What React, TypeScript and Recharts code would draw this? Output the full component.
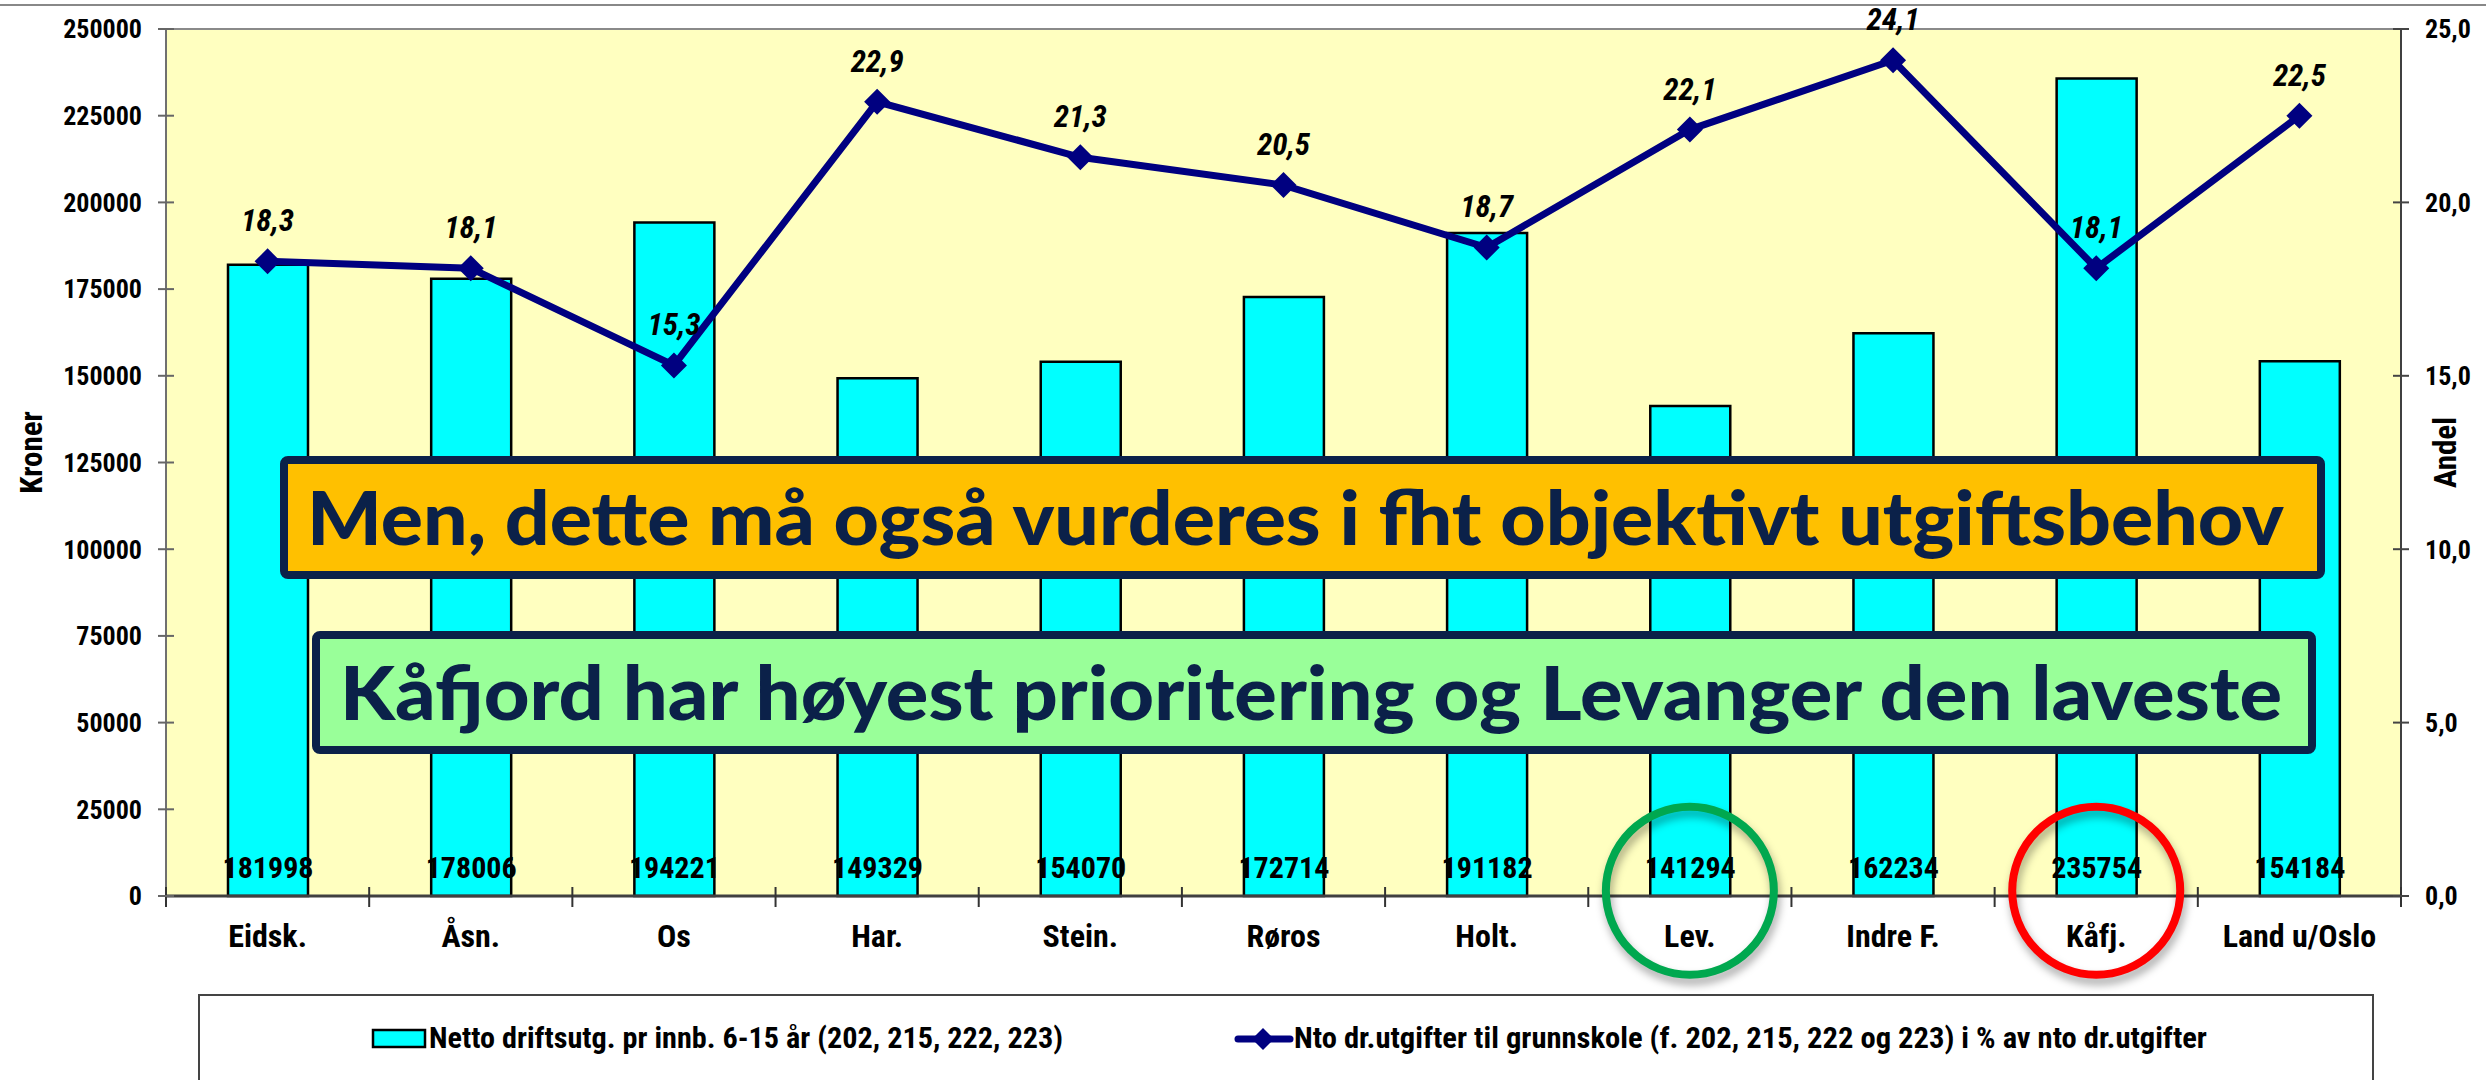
import React from "react";
import {
  ComposedChart,
  Bar,
  Line,
  XAxis,
  YAxis,
  CartesianGrid,
  LabelList,
  ReferenceLine,
  ReferenceDot,
} from "recharts";

// Kommuner (kategorier)
const categories = ["Eidsk.", "Åsn.", "Os", "Har.", "Stein.", "Røros", "Holt.", "Lev.", "Indre F.", "Kåfj.", "Land u/Oslo"];
// Netto driftsutg. pr innb. 6-15 år (kroner)
const nettoValues = [181998, 178006, 194221, 149329, 154070, 172714, 191182, 141294, 162234, 235754, 154184];
// Andel av nto dr.utgifter (%)
const andelValues = [18.3, 18.1, 15.3, 22.9, 21.3, 20.5, 18.7, 22.1, 24.1, 18.1, 22.5];

const leftTicks = [0, 25000, 50000, 75000, 100000, 125000, 150000, 175000, 200000, 225000, 250000];
const rightTicks = [0, 5, 10, 15, 20, 25];

const barLegend = "Netto driftsutg.  pr innb. 6-15 år (202, 215, 222, 223)";
const lineLegend = "Nto dr.utgifter til grunnskole (f. 202, 215, 222 og 223) i % av nto dr.utgifter";
const note1 = "Men, dette må også vurderes i fht objektivt utgiftsbehov";
const note2 = "Kåfjord har høyest prioritering og Levanger den laveste";

const data = categories.map((name, i) => ({ name, netto: nettoValues[i], andel: andelValues[i] }));

const W = 2486;
const H = 1080;
const PLOT_LEFT = 166;
const PLOT_RIGHT = 2401;
const BAND = (PLOT_RIGHT - PLOT_LEFT) / categories.length;
const FONT = '"Liberation Sans Narrow", "Arial Narrow", "Roboto Condensed", sans-serif';
const NAVY = "#000080";
const BOX_TEXT = "#0B2149";

const fmtComma = (v: number) => v.toFixed(1).replace(".", ",");

const LeftTick = (props: any) => {
  const { x, y, payload } = props;
  return (
    <g>
      <line x1={x - 8} x2={x + 8} y1={y} y2={y} stroke="#666" strokeWidth={2} />
      <text x={x - 24} y={y} dy="0.36em" textAnchor="end" fontSize={26} fontWeight="bold" fontFamily={FONT} fill="#000">
        {payload.value}
      </text>
    </g>
  );
};

const RightTick = (props: any) => {
  const { x, y, payload } = props;
  return (
    <g>
      <line x1={x - 8} x2={x + 8} y1={y} y2={y} stroke="#444" strokeWidth={2} />
      <text x={x + 24} y={y} dy="0.36em" textAnchor="start" fontSize={26} fontWeight="bold" fontFamily={FONT} fill="#000">
        {fmtComma(payload.value)}
      </text>
    </g>
  );
};

const CategoryTick = (props: any) => {
  const { x, y, payload, index } = props;
  const half = payload?.offset ? payload.offset : BAND / 2;
  return (
    <g>
      <line x1={x - half} x2={x - half} y1={y - 9} y2={y + 11} stroke="#333" strokeWidth={2} />
      {index === categories.length - 1 && (
        <line x1={x + half} x2={x + half} y1={y - 9} y2={y + 11} stroke="#333" strokeWidth={2} />
      )}
      <text x={x} y={y + 51} textAnchor="middle" fontSize={32} fontWeight="bold" fontFamily={FONT} fill="#000">
        {payload.value}
      </text>
    </g>
  );
};

// aksetitler, rotert
const AxisTitle = (text: string, side: "left" | "right") => (props: any) => {
  const vb = props.viewBox || {};
  const cx = side === "left" ? vb.x - 35 : vb.x + 44;
  const cy = vb.y + vb.height / 2 - 10;
  return (
    <text
      x={cx}
      y={cy}
      transform={`rotate(-90 ${cx} ${cy})`}
      textAnchor="middle"
      dominantBaseline="central"
      fontSize={31}
      fontWeight="bold"
      fontFamily={FONT}
      fill="#000"
    >
      {text}
    </text>
  );
};

const BarValueLabel = (props: any) => {
  const { x, y, width, height, value } = props;
  return (
    <text x={x + width / 2} y={y + height - 18} textAnchor="middle" fontSize={30} fontWeight="bold" fontFamily={FONT} fill="#000">
      {value}
    </text>
  );
};

const LineValueLabel = (props: any) => {
  const { x, y, value } = props;
  return (
    <text x={x} y={y - 30} textAnchor="middle" fontSize={31} fontWeight="bold" fontStyle="italic" fontFamily={FONT} fill="#000">
      {fmtComma(value)}
    </text>
  );
};

const Diamond = (props: any) => {
  const { cx, cy, index } = props;
  const s = 13;
  return <polygon key={`d-${index}`} points={`${cx},${cy - s} ${cx + s},${cy} ${cx},${cy + s} ${cx - s},${cy}`} fill={NAVY} />;
};

const Ring = (color: string) => (props: any) => (
  <circle
    cx={props.cx}
    cy={props.cy}
    r={84}
    fill="none"
    stroke={color}
    strokeWidth={8}
    style={{ filter: "drop-shadow(2px 6px 4px rgba(0,0,0,0.35))" }}
  />
);

export default function App() {
  return (
    <div style={{ position: "absolute", left: 0, top: 0, width: W, height: H, background: "#fff" }}>
      <ComposedChart width={W} height={H} data={data} margin={{ top: 29, right: 5, bottom: 104, left: 66 }}>
        <CartesianGrid fill="#FFFFC0" horizontal={false} vertical={false} />
        <XAxis
          dataKey="name"
          interval={0}
          tickLine={false}
          tickSize={0}
          tickMargin={0}
          height={80}
          axisLine={{ stroke: "#404040", strokeWidth: 3 }}
          tick={<CategoryTick />}
        />
        <YAxis
          yAxisId="left"
          width={100}
          domain={[0, 250000]}
          ticks={leftTicks}
          tickLine={false}
          tickSize={0}
          tickMargin={0}
          axisLine={{ stroke: "#707070", strokeWidth: 2 }}
          tick={<LeftTick />}
          label={{ content: AxisTitle("Kroner", "left") }}
        />
        <YAxis
          yAxisId="right"
          orientation="right"
          width={80}
          domain={[0, 25]}
          ticks={rightTicks}
          tickLine={false}
          tickSize={0}
          tickMargin={0}
          axisLine={{ stroke: "#404040", strokeWidth: 2 }}
          tick={<RightTick />}
          label={{ content: AxisTitle("Andel", "right") }}
        />
        <ReferenceLine yAxisId="left" y={250000} stroke="#8a8a8a" strokeWidth={2} />
        <Bar yAxisId="left" dataKey="netto" fill="#00FFFF" stroke="#000" strokeWidth={2.5} barSize={80} isAnimationActive={false}>
          <LabelList dataKey="netto" content={<BarValueLabel />} />
        </Bar>
        <Line
          yAxisId="right"
          type="linear"
          dataKey="andel"
          stroke={NAVY}
          strokeWidth={7}
          dot={(p: any) => <Diamond key={`dot-${p.index}`} {...p} />}
          activeDot={false}
          isAnimationActive={false}
        >
          <LabelList dataKey="andel" content={<LineValueLabel />} />
        </Line>
        <ReferenceDot yAxisId="left" x="Lev." y={1500} r={84} ifOverflow="visible" shape={Ring("#00A84F")} />
        <ReferenceDot yAxisId="left" x="Kåfj." y={1500} r={84} ifOverflow="visible" shape={Ring("#FF0000")} />
      </ComposedChart>

      {/* tekstbokser, legende og ramme */}
      <svg width={W} height={H} style={{ position: "absolute", left: 0, top: 0, pointerEvents: "none" }}>
        <line x1={0} x2={W} y1={5} y2={5} stroke="#888" strokeWidth={2} />

        <rect x={284} y={460} width={2037} height={115} rx={4} fill="#FFC000" stroke={BOX_TEXT} strokeWidth={8} />
        <text x={307} y={545} fontSize={75} fontWeight={900} fontFamily="Lato, 'Noto Sans', sans-serif" fill={BOX_TEXT} textLength={1977} lengthAdjust="spacingAndGlyphs">
          {note1}
        </text>

        <rect x={316} y={635} width={1996} height={115} rx={4} fill="#99FF99" stroke={BOX_TEXT} strokeWidth={8} />
        <text x={340} y={720} fontSize={75} fontWeight={900} fontFamily="Lato, 'Noto Sans', sans-serif" fill={BOX_TEXT} textLength={1942} lengthAdjust="spacingAndGlyphs">
          {note2}
        </text>

        <rect x={199} y={995} width={2174} height={120} fill="none" stroke="#444" strokeWidth={2} />
        <rect x={373} y={1030} width={52} height={17} fill="#00FFFF" stroke="#000" strokeWidth={2.5} />
        <text x={429} y={1048} fontSize={29} fontWeight="bold" fontFamily={FONT} fill="#000" textLength={634} lengthAdjust="spacingAndGlyphs">
          {barLegend}
        </text>
        <line x1={1238} x2={1290} y1={1039} y2={1039} stroke={NAVY} strokeWidth={7} strokeLinecap="round" />
        <polygon points="1263,1028 1274,1039 1263,1050 1252,1039" fill={NAVY} />
        <text x={1294} y={1048} fontSize={29} fontWeight="bold" fontFamily={FONT} fill="#000" textLength={913} lengthAdjust="spacingAndGlyphs">
          {lineLegend}
        </text>
      </svg>
    </div>
  );
}
